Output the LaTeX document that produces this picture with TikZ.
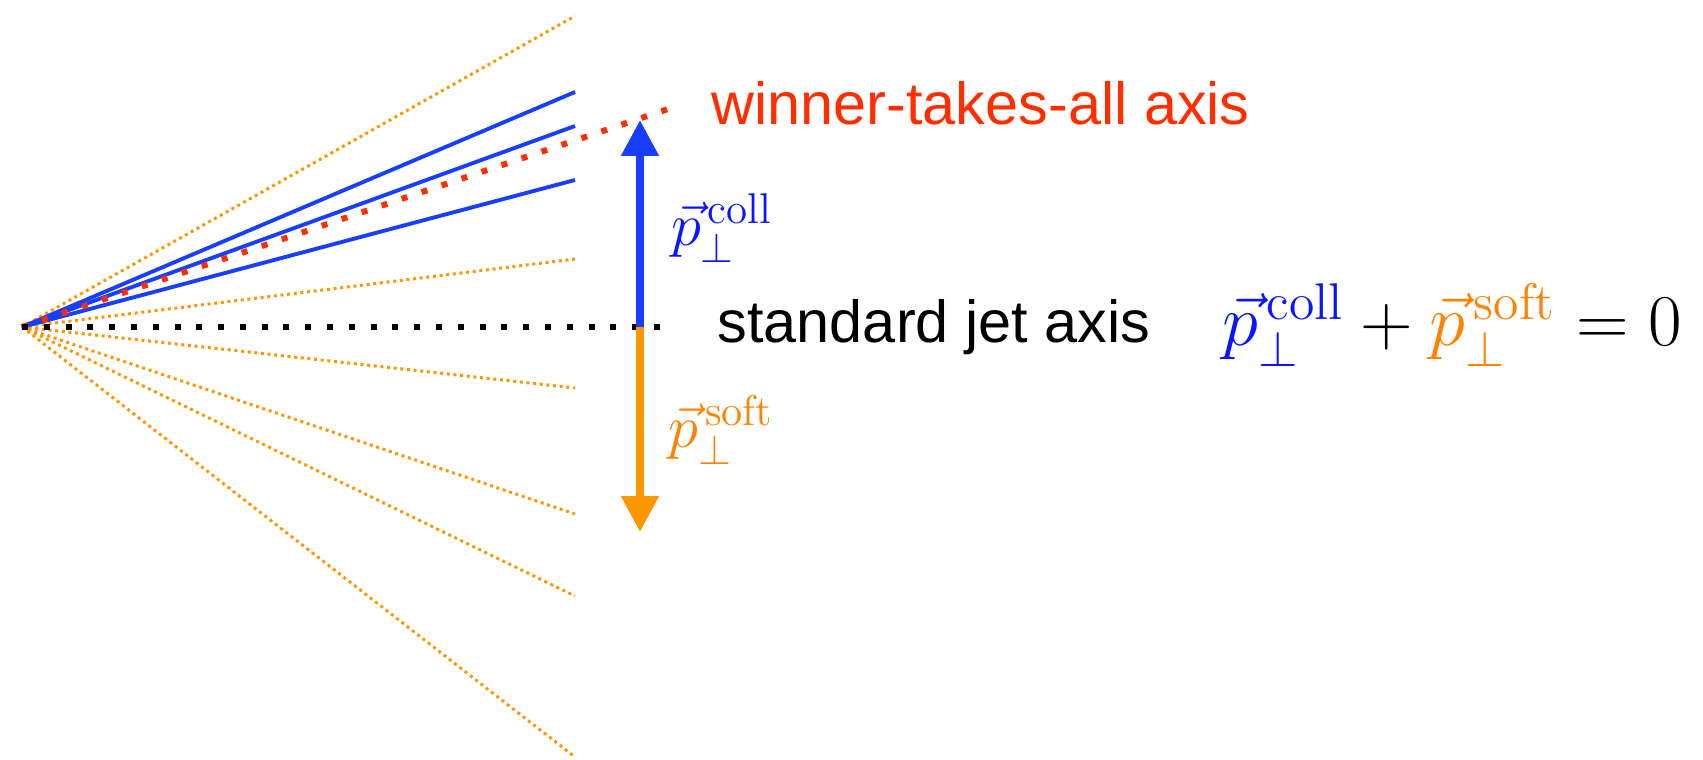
\documentclass[tikz,border=0pt]{standalone}
\usepackage{amsmath}
\usepackage{fontspec}
\newfontfamily\axisfont{Liberation Sans}
\usetikzlibrary{arrows.meta,positioning}

\definecolor{collblue}{RGB}{24,62,255}
\definecolor{softorange}{RGB}{255,150,0}
\definecolor{wtared}{RGB}{255,45,0}
\definecolor{mathblue}{RGB}{10,20,255}
\definecolor{mathorange}{RGB}{255,130,0}

\tikzset{
	softline/.style={softorange,line width=0.85pt,dash pattern=on 0.85pt off 1.05pt},
	collline/.style={collblue,line width=1.1pt},
	wtaline/.style={wtared,line width=1.7pt,dash pattern=on 1.7pt off 4.3pt},
	jetline/.style={black,line width=1.7pt,dash pattern=on 1.7pt off 4.5pt},
	bigarrow/.style={line width=2.3pt,-{Triangle[width=10.2pt,length=10.2pt]}},
	axislabel/.style={inner sep=0pt,font=\fontsize{16.9}{20}\selectfont\axisfont},
}

\begin{document}
\begin{tikzpicture}
				%\draw[color=gray,step=1mm, help lines,opacity=0.3] (-0.22,-4.32) grid (16.81,3.27); %help grids
				\useasboundingbox (-0.22,-4.32) rectangle (16.81,3.27);

				\coordinate (O) at (0,0);
				% soft particles
				\coordinate (s1) at (5.53,3.11);
				\coordinate (s2) at (5.53,0.68);
				\coordinate (s3) at (5.53,-0.61);
				\coordinate (s4) at (5.53,-1.87);
				\coordinate (s5) at (5.53,-2.69);
				\coordinate (s6) at (5.53,-4.30);
				% collinear particles
				\coordinate (c1) at (5.53,2.35);
				\coordinate (c2) at (5.53,2.01);
				\coordinate (c3) at (5.53,1.47);
				% axes
				\coordinate (wta) at (6.58,2.22);
				\coordinate (jet) at (6.53,0);
				\coordinate (foot) at (6.18,0);
				\coordinate (colltip) at (6.18,2.07);
				\coordinate (softtip) at (6.18,-2.05);

				\draw[softline] (O) -- (s1);
				\draw[softline] (O) -- (s2);
				\draw[softline] (O) -- (s3);
				\draw[softline] (O) -- (s4);
				\draw[softline] (O) -- (s5);
				\draw[softline] (O) -- (s6);

				\draw[collline] (O) -- (c1);
				\draw[collline] (O) -- (c2);
				\draw[collline] (O) -- (c3);

				\draw[wtaline] (O) -- (wta);
				\draw[jetline] (O) -- (jet);

				\draw[bigarrow,collblue] (foot) -- (colltip);
				\draw[bigarrow,softorange] (foot) -- (softtip);

				\node[axislabel,anchor=west,text=wtared] (wtalabel) at (6.89,2.24) {winner-takes-all axis};
				\node[axislabel,anchor=west] (jetlabel) at (6.95,0) {standard jet axis};

				\node[text=mathblue,font=\fontsize{17.5}{21}\selectfont] (colllabel) at (7.00,0.99) {$\vec{p}_\perp^{\,\mathrm{coll}}$};
				\node[text=mathorange,font=\fontsize{17.5}{21}\selectfont] (softlabel) at (6.99,-1.03) {$\vec{p}_\perp^{\,\mathrm{soft}}$};

				\node[font=\fontsize{21}{25}\selectfont,anchor=west,inner sep=0pt] (balance) at (12.00,0.02) {$\textcolor{mathblue}{\vec{p}_\perp^{\,\mathrm{coll}}}+\textcolor{mathorange}{\vec{p}_\perp^{\,\mathrm{soft}}}=0$};
\end{tikzpicture}
\end{document}
